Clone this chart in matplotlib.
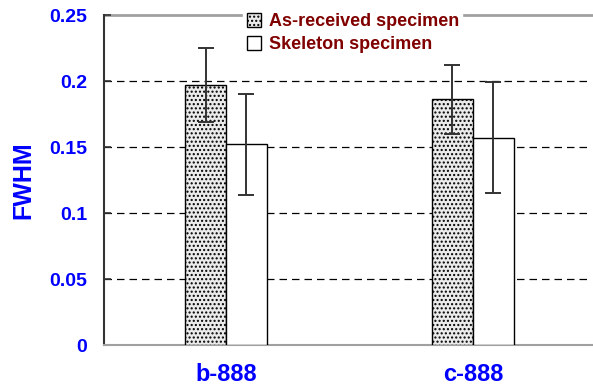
import matplotlib.pyplot as plt
import numpy as np

plt.rcParams['font.family'] = ['Liberation Sans', 'DejaVu Sans']
plt.rcParams['hatch.color'] = '#8a8a8a'
plt.rcParams['hatch.linewidth'] = 1.0

samples = ['b-888', 'c-888']
as_received = [0.197, 0.186]
as_received_err = [0.028, 0.026]
skeleton = [0.152, 0.157]
skeleton_err = [0.038, 0.042]

x = np.arange(len(samples))
w = 0.166

fig = plt.figure(figsize=(5.93, 3.92), dpi=100)
ax = fig.add_axes([104/593, 47/392, 488/593, 330/392])

ax.bar(x - w/2, as_received, w, color='#ebebeb', edgecolor='black', linewidth=1.0,
       hatch='....', label='As-received specimen', zorder=3)
ax.bar(x + w/2, skeleton, w, color='white', edgecolor='black', linewidth=1.0,
       label='Skeleton specimen', zorder=3)
ax.errorbar(x - w/2, as_received, yerr=as_received_err, fmt='none', ecolor='#333333',
            elinewidth=1.4, capsize=6, capthick=1.4, zorder=4)
ax.errorbar(x + w/2, skeleton, yerr=skeleton_err, fmt='none', ecolor='#333333',
            elinewidth=1.4, capsize=6, capthick=1.4, zorder=4)

ax.set_xlim(-0.494, 1.482)
ax.set_ylim(0, 0.25)
ax.set_yticks([0, 0.05, 0.1, 0.15, 0.2, 0.25])
ax.set_yticklabels(['0', '0.05', '0.1', '0.15', '0.2', '0.25'])
ax.set_xticks(x)
ax.set_xticklabels(samples)

for t in [0.05, 0.1, 0.15, 0.2]:
    ax.axhline(t, color='black', linestyle=(0, (6, 4)), linewidth=0.9, zorder=1)
ax.axhline(0.25, color='#a0a0a0', linewidth=2, zorder=1, clip_on=False)

ax.spines['right'].set_visible(False)
ax.spines['top'].set_visible(False)
ax.spines['bottom'].set_color('#a0a0a0')
ax.spines['bottom'].set_linewidth(1.5)
ax.spines['left'].set_color('#333333')
ax.spines['left'].set_linewidth(1.5)

ax.tick_params(axis='y', direction='in', length=5, width=1.2, colors='#333333',
               labelcolor='blue', labelsize=14, pad=12)
ax.tick_params(axis='x', length=0, labelcolor='blue', labelsize=17, pad=13)
for lab in ax.get_yticklabels() + ax.get_xticklabels():
    lab.set_fontweight('bold')

ax.set_ylabel('FWHM', color='blue', fontsize=18, fontweight='bold', labelpad=10)

leg = ax.legend(loc='upper center', bbox_to_anchor=(0.51, 1.045), frameon=True,
                framealpha=1, edgecolor='white', fancybox=False,
                prop={'weight': 'bold', 'size': 13}, handlelength=0.8, handleheight=0.8,
                handletextpad=0.4, labelspacing=0.35, borderpad=0.2)
for txt in leg.get_texts():
    txt.set_color('#800000')
leg.set_zorder(5)

fig.savefig('out.png', dpi=100)
